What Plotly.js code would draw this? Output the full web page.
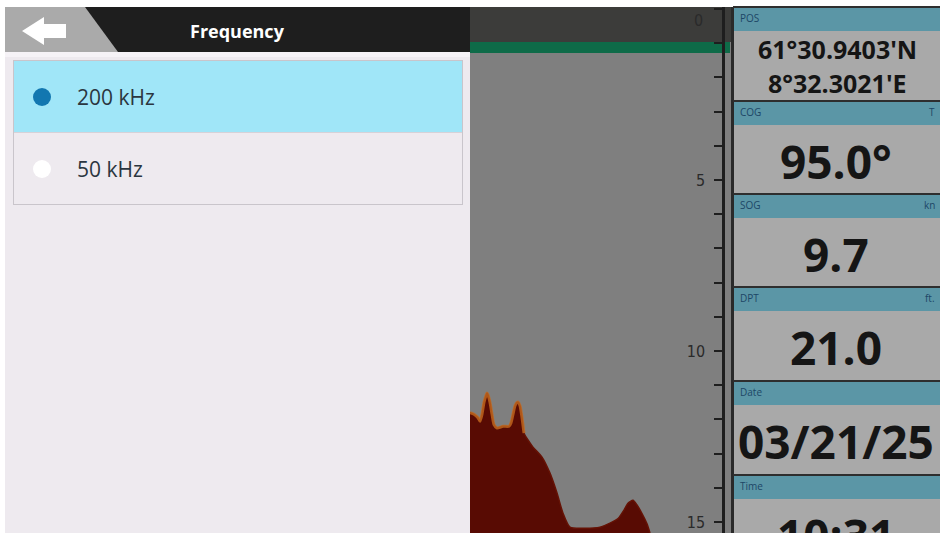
<!DOCTYPE html>
<html><head><meta charset="utf-8">
<script src="https://cdn.plot.ly/plotly-3.0.1.min.js"></script>
<style>html,body{margin:0;padding:0;background:#fff;overflow:hidden}#chart{width:940px;height:533px}</style>
</head><body><div id="chart"></div>
<script>
// ---- data ----
const menuTitle = 'Frequency';
const frequencies = ['200 kHz', '50 kHz'];
const selectedFrequency = 0;
const depthTicks = [0, 5, 10, 15];
const echoPing  = [0, 4, 8, 10, 12, 14, 16, 17, 18, 20, 22, 24, 27, 33, 39, 41, 43, 45, 47, 48, 50, 52, 54, 58, 63, 72, 80, 87, 93, 100, 115, 130, 140, 148, 154, 158, 163, 167, 172, 177, 180];
const echoDepth = [11.8, 11.85, 11.95, 12.05, 11.85, 11.5, 11.3, 11.23, 11.28, 11.5, 11.85, 12.15, 12.25, 12.2, 12.2, 12.1, 11.85, 11.6, 11.5, 11.49, 11.6, 11.95, 12.4, 12.6, 12.81, 13.1, 13.57, 14.15, 14.74, 15.15, 15.18, 15.15, 15.03, 14.9, 14.65, 14.45, 14.36, 14.5, 14.75, 15.05, 15.32];
const dataLabels = ['POS', 'COG', 'SOG', 'DPT', 'Date', 'Time'];
const dataUnits  = ['', 'T', 'kn', 'ft.', '', ''];
const dataValues = [["61°30.9403'N", "8°32.3021'E"], ['95.0°'], ['9.7'], ['21.0'], ['03/21/25'], ['10:31']];

// ---- layout helpers ----
const W = 940, H = 533;
const X = p => p / W, Y = p => 1 - p / H;
const depthRange = [15.32, -0.06];
const pingRange = [0, 252];
const FONT = 'Open Sans, Noto Sans, sans-serif';

const shapes = [];
const ann = [];
function rect(x0, y0, x1, y1, color, extra) {
  shapes.push(Object.assign({type: 'rect', xref: 'paper', yref: 'paper', x0: X(x0), x1: X(x1), y0: Y(y1), y1: Y(y0),
    fillcolor: color, line: {width: 0}, layer: 'below'}, extra || {}));
}
function poly(pts, color, layer) {
  const d = pts.map((p, i) => (i ? 'L' : 'M') + X(p[0]) + ',' + Y(p[1])).join(' ') + ' Z';
  shapes.push({type: 'path', xref: 'paper', yref: 'paper', path: d, fillcolor: color, line: {width: 0}, layer: layer || 'below'});
}

// left menu panel
rect(5, 7, 470, 533, '#eeeaef');
rect(5, 7, 470, 52, '#1e1e1e');
poly([[5, 7], [85, 7], [118, 52], [5, 52]], '#aaaaaa');
poly([[22, 31], [44, 17], [44, 24], [66, 24], [66, 38], [44, 38], [44, 45]], '#ffffff', 'above');
rect(5, 52, 470, 57, '#f6f3f7');
rect(13, 60, 463, 205, '#c9c5cb');
rect(14, 61, 462, 204, '#eeeaef');
rect(14, 61, 462, 132, '#a0e6f8');
rect(14, 132, 462, 133, '#d6d2d8');
ann.push({xref: 'paper', yref: 'paper', x: X(238), y: Y(31), text: '<b>' + menuTitle + '</b>', showarrow: false,
  font: {family: FONT, size: 18, color: '#ffffff'}, xanchor: 'center', yanchor: 'middle'});
frequencies.forEach((f, i) => {
  const cy = 97 + i * 72;
  shapes.push({type: 'circle', xref: 'paper', yref: 'paper', x0: X(33), x1: X(51), y0: Y(cy + 9), y1: Y(cy - 9),
    fillcolor: i === selectedFrequency ? '#1277b0' : '#ffffff', line: {width: 0}, layer: 'above'});
  ann.push({xref: 'paper', yref: 'paper', x: X(75), y: Y(cy), text: f, showarrow: false,
    font: {family: FONT, size: 21, color: '#2b3640'}, xanchor: 'left', yanchor: 'middle'});
});

// sonar area backgrounds
rect(470, 7, 733, 533, '#7f7f7f');
rect(470, 7, 733, 42, '#3c3c3a');
rect(470, 42, 730, 53, '#0e6b48');

// data boxes
const headTops = [8, 102, 195, 288, 382, 476];
rect(733, 7, 940, 533, '#a9a9a9');
rect(731, 7, 734, 533, '#2a2a2a');
headTops.forEach((t, i) => {
  rect(733, t - 2, 940, t, '#2e2e2e');
  rect(734, t, 940, t + 23, '#5b96a6');
  ann.push({xref: 'paper', yref: 'paper', x: X(738), y: Y(t + 10), text: dataLabels[i], showarrow: false,
    font: {family: FONT, size: 10, color: '#1d4766'}, xanchor: 'left', yanchor: 'middle'});
  if (dataUnits[i]) ann.push({xref: 'paper', yref: 'paper', x: X(937), y: Y(t + 10), text: dataUnits[i], showarrow: false,
    font: {family: FONT, size: 10, color: '#1d4766'}, xanchor: 'right', yanchor: 'middle'});
  const vals = dataValues[i];
  if (vals.length === 2) {
    ann.push({xref: 'paper', yref: 'paper', x: X(837), y: Y(49), text: '<b>' + vals[0] + '</b>', showarrow: false,
      font: {family: FONT, size: 25, color: '#151515'}, xanchor: 'center', yanchor: 'middle'});
    ann.push({xref: 'paper', yref: 'paper', x: X(837), y: Y(83), text: '<b>' + vals[1] + '</b>', showarrow: false,
      font: {family: FONT, size: 25, color: '#151515'}, xanchor: 'center', yanchor: 'middle'});
  } else {
    ann.push({xref: 'paper', yref: 'paper', x: X(836), y: Y(t + 59), text: '<b>' + vals[0] + '</b>', showarrow: false,
      font: {family: FONT, size: 46, color: '#151515'}, xanchor: 'center', yanchor: 'middle'});
  }
});

// zero depth label
ann.push({xref: 'x', yref: 'y', x: pingRange[1], y: depthTicks[0], text: String(depthTicks[0]), showarrow: false,
  xanchor: 'right', yanchor: 'middle', xshift: -17, yshift: -11, font: {family: 'DejaVu Sans Condensed, sans-serif', size: 16, color: '#2a2a2a'}});

const traces = [
  {x: [echoPing[0], echoPing[echoPing.length - 1]], y: [depthRange[0], depthRange[0]], mode: 'lines',
   line: {width: 0, color: 'rgba(0,0,0,0)'}, hoverinfo: 'skip', showlegend: false},
  {x: echoPing, y: echoDepth, mode: 'lines', fill: 'tonexty', fillcolor: '#580b03', line: {shape: 'spline', smoothing: 0.6, color: '#651205', width: 1.5},
   hoverinfo: 'skip', showlegend: false},
  {x: echoPing.slice(0, 23), y: echoDepth.slice(0, 23), mode: 'lines',
   line: {shape: 'spline', smoothing: 0.6, color: 'rgba(195,105,30,0.8)', width: 3}, hoverinfo: 'skip', showlegend: false}
];

const layout = {
  width: W, height: H, margin: {l: 0, r: 0, t: 0, b: 0, pad: 0},
  paper_bgcolor: '#ffffff', plot_bgcolor: 'rgba(0,0,0,0)', showlegend: false,
  xaxis: {domain: [X(470), X(722)], range: pingRange, visible: false, fixedrange: true},
  yaxis: {domain: [0, Y(7)], range: depthRange, side: 'right', anchor: 'x',
    showline: true, linecolor: '#1e1e1e', linewidth: 3, mirror: false,
    ticks: 'inside', ticklen: 8, tickwidth: 2, tickcolor: '#1e1e1e',
    ticklabelposition: 'inside', tickvals: depthTicks.slice(1), ticktext: depthTicks.slice(1).map(v => v + '\u00a0\u00a0'),
    tickfont: {family: 'DejaVu Sans Condensed, sans-serif', size: 16, color: '#2a2a2a'},
    showgrid: false, zeroline: false,
    minor: {dtick: 1, tick0: 0, ticks: 'inside', ticklen: 8, tickwidth: 2, tickcolor: '#1e1e1e', showgrid: false}},
  shapes: shapes, annotations: ann
};
Plotly.newPlot('chart', traces, layout, {staticPlot: true, displayModeBar: false});
</script></body></html>
